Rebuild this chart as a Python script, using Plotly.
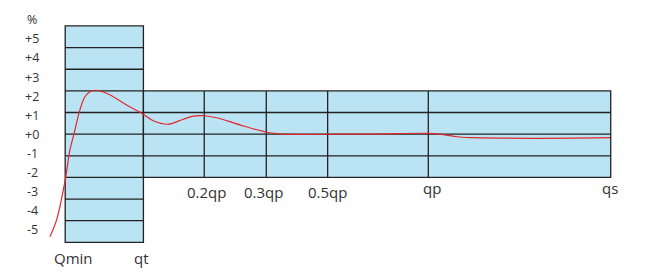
import plotly.graph_objects as go

# ---- data ----
section_names = ["Qmin", "qt", "0.2qp", "0.3qp", "0.5qp", "qp", "qs"]
section_pos = [0, 14.34, 25.49, 36.86, 48.11, 66.56, 100]
label_x = [1.55, 13.9, 25.9, 36.4, 48.1, 67.3, 99.9]
label_y = [-5.74, -5.74, -2.69, -2.69, -2.69, -2.49, -2.49]

y_tick_text = ["%", "+5", "+4", "+3", "+2", "+1", "+0", "-1", "-2", "-3", "-4", "-5"]
y_tick_pos = [5.28, 4.40, 3.52, 2.64, 1.76, 0.88, 0.0, -0.88, -1.76, -2.64, -3.52, -4.40]

low_limit = 5    # error band below qt (grid units)
high_limit = 2   # error band from qt to qs

curve_x = [-2.80, -1.57, 0.0, 0.87, 1.60, 2.70, 3.62, 4.53, 5.58, 7.60, 11.26,
           14.31, 16.14, 18.89, 21.64, 23.47, 25.62, 27.76, 32.03, 36.93, 39.37,
           50.37, 56.42, 66.27, 68.70, 71.76, 74.81, 85.20, 99.87]
curve_y = [-4.74, -3.96, -2.12, -0.73, 0.0, 1.12, 1.73, 1.96, 2.03, 1.89, 1.35,
           0.92, 0.62, 0.46, 0.69, 0.83, 0.85, 0.76, 0.43, 0.09, 0.01,
           0.0, 0.0, 0.04, 0.0, -0.12, -0.16, -0.19, -0.16]

FILL = "#bae3f3"
EDGE = "#222222"
TXT = "#333333"
FONT = "Open Sans"

qmin, qt, qs = section_pos[0], section_pos[1], section_pos[-1]

shapes = []
# tall box (Qmin..qt)
shapes.append(dict(type="rect", xref="x", yref="y", x0=qmin, x1=qt, y0=-low_limit, y1=low_limit,
                   fillcolor=FILL, line=dict(color=EDGE, width=1.3), layer="below"))
# wide box (qt..qs)
shapes.append(dict(type="rect", xref="x", yref="y", x0=qt, x1=qs, y0=-high_limit, y1=high_limit,
                   fillcolor=FILL, line=dict(color=EDGE, width=1.3), layer="below"))
for yv in range(-low_limit + 1, low_limit):
    shapes.append(dict(type="line", xref="x", yref="y", x0=qmin, x1=qt, y0=yv, y1=yv,
                       line=dict(color=EDGE, width=1.3), layer="below"))
for yv in range(-high_limit + 1, high_limit):
    shapes.append(dict(type="line", xref="x", yref="y", x0=qt, x1=qs, y0=yv, y1=yv,
                       line=dict(color=EDGE, width=1.3), layer="below"))
for xv in section_pos[2:-1]:
    shapes.append(dict(type="line", xref="x", yref="y", x0=xv, x1=xv, y0=-high_limit, y1=high_limit,
                       line=dict(color=EDGE, width=1.3), layer="below"))

fig = go.Figure()
fig.add_trace(go.Scatter(x=curve_x, y=curve_y, mode="lines",
                         line=dict(color="#e3262d", width=1.2, shape="spline", smoothing=1.0),
                         hoverinfo="skip", showlegend=False))

annotations = []
for name, xv, yv in zip(section_names, label_x, label_y):
    annotations.append(dict(x=xv, y=yv, xref="x", yref="y", text=name, showarrow=False,
                            xanchor="center", yanchor="middle",
                            font=dict(family=FONT, size=15, color=TXT)))
for t, yv in zip(y_tick_text, y_tick_pos):
    annotations.append(dict(x=-6.03, y=yv, xref="x", yref="y", text=t, showarrow=False,
                            xanchor="center", yanchor="middle",
                            font=dict(family=FONT, size=12.5, color=TXT)))

fig.update_layout(
    width=655, height=279,
    margin=dict(l=27, r=17, t=0, b=15, pad=0),
    paper_bgcolor="white", plot_bgcolor="white",
    xaxis=dict(range=[-7, 105], visible=False, fixedrange=True),
    yaxis=dict(range=[-6, 6.2], visible=False, fixedrange=True),
    shapes=shapes, annotations=annotations,
    showlegend=False,
)

fig.write_html("out.html")
